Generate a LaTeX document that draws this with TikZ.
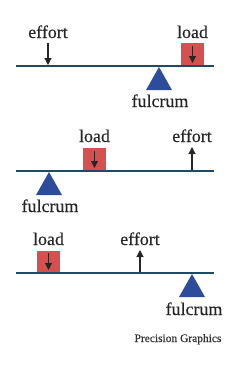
\documentclass[tikz,border=0pt]{standalone}
\usepackage{fontspec}
\setmainfont{Liberation Serif}
\newfontfamily\lblfont[FakeBold=0.4]{Liberation Serif}
\usetikzlibrary{arrows.meta}
\definecolor{beamc}{HTML}{1E4B62}
\definecolor{loadc}{HTML}{D5504F}
\definecolor{fulc}{HTML}{2E4C9C}
\tikzset{
  lbl/.style={anchor=base, inner sep=0pt, font=\lblfont\fontsize{18}{20}\selectfont, text=black!85},
  beam/.style={draw=beamc, line width=2.2bp},
  loadbox/.style={fill=loadc, draw=none, minimum width=23bp, minimum height=22bp, inner sep=0pt},
  force/.style={draw=black!85, line width=1.1bp, -{Triangle[length=7bp,width=7bp]}},
  fulcrum/.style={fill=fulc, draw=none}
}
\begin{document}
\begin{tikzpicture}[x=1bp,y=-1bp]
\useasboundingbox (0,0) rectangle (240,369);
% ---------- panel 1 ----------
\node[loadbox] (L1) at (192.5,54) {};
\coordinate (b1a) at (16,66);
\coordinate (b1b) at (214,66);
\path[beam] (b1a) -- (b1b);
\path[fulcrum] (159,67) -- (172,90) -- (146,90) -- cycle;
\node[lbl] (e1t) at (48,38) {effort};
\node[lbl] (l1t) at (192.5,38) {load};
\node[lbl] (f1t) at (160,107) {fulcrum};
\coordinate (e1s) at (48,43);
\coordinate (e1e) at (48,65);
\draw[force] (e1s) -- (e1e);
\coordinate (l1s) at (192.5,46);
\coordinate (l1e) at (192.5,63);
\draw[force] (l1s) -- (l1e);
% ---------- panel 2 ----------
\node[loadbox] (L2) at (94.5,159) {};
\coordinate (b2a) at (16,171);
\coordinate (b2b) at (214,171);
\path[beam] (b2a) -- (b2b);
\path[fulcrum] (49,172) -- (62,195) -- (36,195) -- cycle;
\node[lbl] (l2t) at (94.5,142) {load};
\node[lbl] (e2t) at (192,142) {effort};
\node[lbl] (f2t) at (50,212) {fulcrum};
\coordinate (l2s) at (94.5,151);
\coordinate (l2e) at (94.5,168);
\draw[force] (l2s) -- (l2e);
\coordinate (e2s) at (192,170);
\coordinate (e2e) at (192,147);
\draw[force] (e2s) -- (e2e);
% ---------- panel 3 ----------
\node[loadbox] (L3) at (48.5,262) {};
\coordinate (b3a) at (16,273);
\coordinate (b3b) at (214,273);
\path[beam] (b3a) -- (b3b);
\path[fulcrum] (192,274) -- (205,297) -- (179,297) -- cycle;
\node[lbl] (l3t) at (48.5,245) {load};
\node[lbl] (e3t) at (140,245) {effort};
\node[lbl] (f3t) at (194,315) {fulcrum};
\coordinate (l3s) at (48.5,253);
\coordinate (l3e) at (48.5,270);
\draw[force] (l3s) -- (l3e);
\coordinate (e3s) at (140,272);
\coordinate (e3e) at (140,250);
\draw[force] (e3s) -- (e3e);
% credit
\node[anchor=base, inner sep=0pt, font=\lblfont\fontsize{11.5}{13}\selectfont, text=black!80] (cred) at (178,342) {Precision Graphics};
\end{tikzpicture}
\end{document}
